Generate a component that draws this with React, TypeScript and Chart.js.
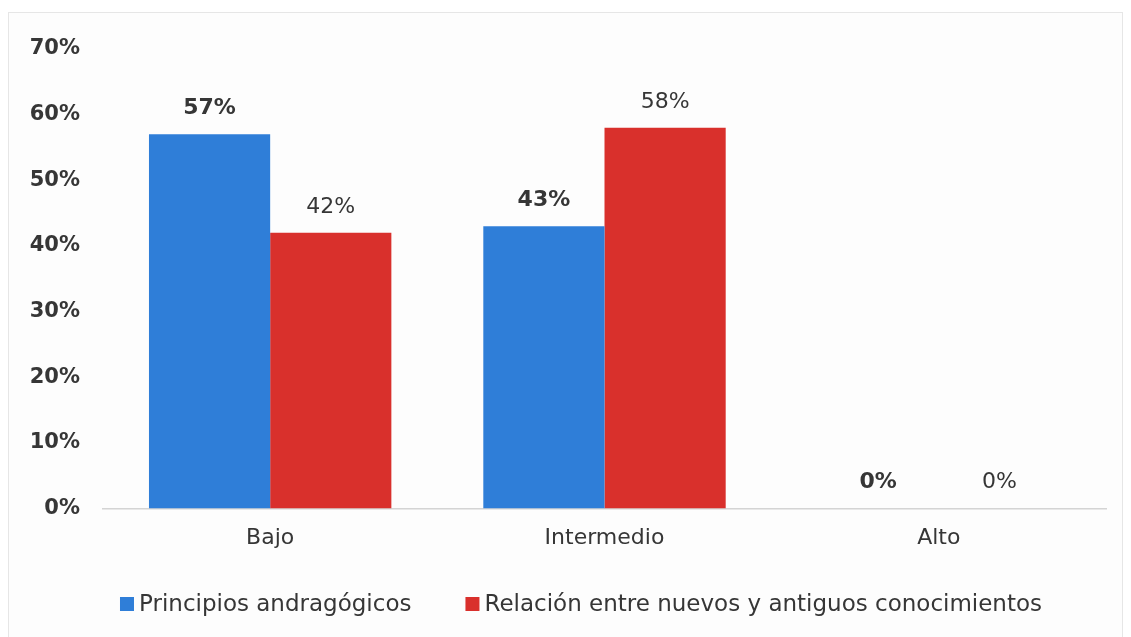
import React, { useEffect, useRef } from "react";
import { Chart, registerables } from "chart.js";

Chart.register(...registerables);

const categories = ["Bajo", "Intermedio", "Alto"];
const seriesNames = ["Principios andragógicos", "Relación entre nuevos y antiguos conocimientos"];
const principios = [57, 43, 0];
const relacion = [42, 58, 0];
const yTicks = [0, 10, 20, 30, 40, 50, 60, 70];

const BLUE = "#2F7ED8";
const RED = "#D9302C";
const TEXT = "#363636";
const FONT = '"DejaVu Sans", "Open Sans", sans-serif';

const dataLabels = {
  id: "dataLabels",
  afterDatasetsDraw(chart: any) {
    const ctx = chart.ctx;
    ctx.save();
    ctx.textAlign = "center";
    ctx.textBaseline = "middle";
    ctx.fillStyle = TEXT;
    chart.data.datasets.forEach((ds: any, di: number) => {
      const meta = chart.getDatasetMeta(di);
      ctx.font = `${di === 0 ? "bold" : "normal"} 22px ${FONT}`;
      meta.data.forEach((bar: any, i: number) => {
        ctx.fillText(`${ds.data[i]}%`, bar.x, bar.y - 26);
      });
    });
    ctx.restore();
  },
};

const customLegend = {
  id: "customLegend",
  afterDraw(chart: any) {
    const ctx = chart.ctx;
    ctx.save();
    ctx.font = `normal 23px ${FONT}`;
    ctx.textBaseline = "middle";
    const box = 14;
    const gap = 5;
    const spacing = 54;
    const items = chart.data.datasets.map((ds: any) => ({
      label: ds.label,
      color: ds.backgroundColor,
      w: box + gap + ctx.measureText(ds.label).width,
    }));
    const total = items.reduce((s: number, it: any) => s + it.w, 0) + spacing * (items.length - 1);
    let x = 572 - total / 2;
    const y = 591;
    items.forEach((it: any) => {
      ctx.fillStyle = it.color;
      ctx.fillRect(x, y - box / 2, box, box);
      ctx.fillStyle = TEXT;
      ctx.textAlign = "left";
      ctx.fillText(it.label, x + box + gap, y + 1);
      x += it.w + spacing;
    });
    ctx.restore();
  },
};

export default function App() {
  const ref = useRef<HTMLCanvasElement>(null);

  useEffect(() => {
    if (!ref.current) return;
    const chart = new Chart(ref.current, {
      type: "bar",
      data: {
        labels: categories,
        datasets: [
          { label: seriesNames[0], data: principios, backgroundColor: BLUE, categoryPercentage: 0.725, barPercentage: 1 },
          { label: seriesNames[1], data: relacion, backgroundColor: RED, categoryPercentage: 0.725, barPercentage: 1 },
        ],
      },
      options: {
        animation: false,
        responsive: false,
        maintainAspectRatio: false,
        layout: { padding: { left: 0, right: 16, top: 36, bottom: 66 } },
        plugins: {
          legend: { display: false },
          tooltip: { enabled: false },
        },
        scales: {
          x: {
            grid: { display: false, drawTicks: false },
            border: { display: true, color: "#d4d4d4", width: 1.5 },
            ticks: { color: TEXT, font: { family: FONT, size: 22 }, padding: 16 },
          },
          y: {
            min: 0,
            max: 70,
            afterBuildTicks: (axis: any) => {
              axis.ticks = yTicks.map((v) => ({ value: v }));
            },
            afterFit: (axis: any) => {
              axis.width = 94;
            },
            grid: { display: false, drawTicks: false },
            border: { display: false },
            ticks: {
              color: TEXT,
              padding: 23,
              font: { family: FONT, size: 21, weight: "bold" },
              callback: (v: any) => `${v}%`,
            },
          },
        },
      },
      plugins: [dataLabels, customLegend],
    });
    return () => chart.destroy();
  }, []);

  return (
    <div
      style={{
        marginTop: 4,
        width: 1115,
        height: 640,
        border: "1px solid #e6e6e6",
        boxSizing: "border-box",
        background: "#fdfdfd",
      }}
    >
      <canvas ref={ref} width={1113} height={620} style={{ display: "block" }} />
    </div>
  );
}
